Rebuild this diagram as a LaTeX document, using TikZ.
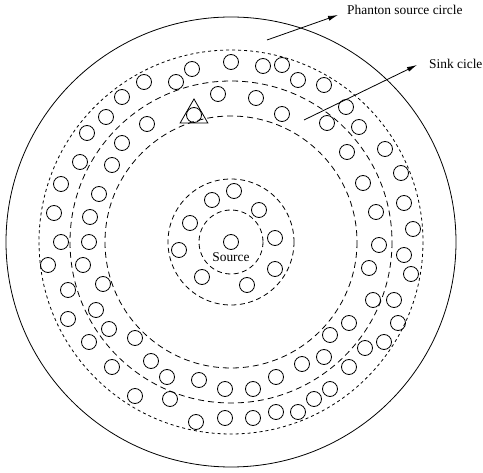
\documentclass[tikz,border=0pt]{standalone}
\usepackage{fontspec}
\setmainfont{Liberation Serif}
\usetikzlibrary{arrows.meta,shapes.geometric}

\tikzset{
  ball/.style={draw, circle, line width=0.8pt, minimum size=15pt, inner sep=0pt},
  ring/.style={line width=0.8pt},
  finering/.style={ring, dash pattern=on 3pt off 3pt},
  wideing/.style={ring, dash pattern=on 6pt off 4pt},
  coreing/.style={ring, dash pattern=on 5pt off 3.5pt},
  label/.style={font=\fontsize{13.4}{15}\selectfont, inner sep=0pt, anchor=base west},
  pointer/.style={line width=0.8pt, -{Latex[length=10pt,width=5pt]}},
}

\begin{document}
\begin{tikzpicture}[x=1pt, y=-1pt]
\useasboundingbox (0,0) rectangle (483,473);

\coordinate (c) at (231,242);

% boundary rings
\draw[ring] (c) circle[radius=225];
\draw[finering] (c) circle[radius=192];
\draw[wideing] (c) circle[radius=161];
\draw[wideing] (c) circle[radius=126];
\draw[coreing] (c) circle[radius=63];
\draw[coreing] (c) circle[radius=32];

% outer band of sinks
\foreach \x/\y [count=\i] in {
  231/62, 192/69, 176/82, 144/82, 122/97, 106/117, 87/133, 80/162, 61/184, 54/213,
  263/66, 282/65, 298/80, 324/85, 346/107, 359/127, 385/149, 401/173, 404/203, 413/229,
  61/242, 48/265, 68/290, 68/319, 89/342, 112/367, 135/396, 170/399, 196/422, 225/418,
  404/255, 411/274, 394/300, 398/323, 384/342, 365/348, 349/367, 330/389, 314/399,
  298/412, 276/412, 253/418}
  \node[ball] (o\i) at (\x,\y) {};

% inner band of sinks
\foreach \x/\y [count=\i] in {
  218/94, 194/115, 147/124, 122/143, 112/165, 99/194, 90/217, 89/242, 83/265, 103/284,
  96/310, 109/329, 135/338, 151/361, 167/377, 199/380, 225/389, 253/389, 276/377,
  302/364, 324/357, 330/335, 349/323, 373/300, 369/268, 379/245, 376/212, 363/183,
  347/152, 327/123, 282/114, 256/98}
  \node[ball] (m\i) at (\x,\y) {};

% ring around the source
\foreach \x/\y [count=\i] in {
  234/191, 212/200, 259/210, 190/223, 275/238, 179/250, 275/269, 202/277, 247/285}
  \node[ball] (s\i) at (\x,\y) {};

% the source itself
\node[ball] (src) at (c) {};
\node[label, anchor=base] (srclabel) at (231,262) {Source};

% marked sink
\node[draw, regular polygon, regular polygon sides=3, minimum size=32pt,
      inner sep=0pt, line width=0.8pt] (mark) at (m2) {};

% annotations
\node[label] (phantom) at (347,15) {Phanton source circle};
\node[label] (sink) at (429,69) {Sink cicle};

\coordinate (pa) at (267,40);
\coordinate (sa) at (304,120);
\draw[pointer] (pa) -- ([xshift=-9pt]phantom.base west);
\draw[pointer] (sa) -- ([xshift=-12pt,yshift=4pt]sink.base west);
\end{tikzpicture}
\end{document}
